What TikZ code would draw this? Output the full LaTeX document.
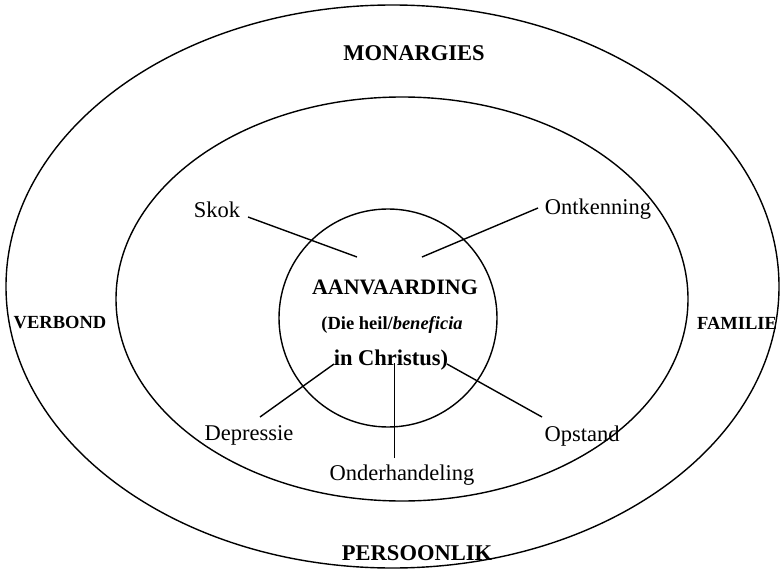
\documentclass[tikz,border=0pt]{standalone}
\usepackage{fontspec}
\setmainfont{Liberation Serif}
\usetikzlibrary{shapes.geometric}
\tikzset{
  ring/.style={draw, ellipse, line width=1.4bp, inner sep=0pt},
  bigbold/.style={font=\fontsize{22.5bp}{27bp}\selectfont\bfseries, inner sep=0pt},
  sidebold/.style={font=\fontsize{18.5bp}{22bp}\selectfont\bfseries, inner sep=0pt},
  stage/.style={font=\fontsize{22.5bp}{27bp}\selectfont, inner sep=0pt},
  link/.style={line width=1.4bp}
}
\begin{document}
\begin{tikzpicture}[x=1bp,y=-1bp]
\useasboundingbox (0,0) rectangle (782,571);
% rings
\node[ring, minimum width=773bp, minimum height=563bp] (outer) at (392.5,286.5) {};
\node[ring, minimum width=572bp, minimum height=404bp] (inner) at (402,299) {};
\node[ring, minimum width=218bp, minimum height=218bp] (core) at (388,318) {};
% outer labels
\node[bigbold] (mon) at (414,53) {MONARGIES};
\node[bigbold] (per) at (417,553) {PERSOONLIK};
\node[sidebold] (ver) at (60,323) {VERBOND};
\node[sidebold] (fam) at (737,323) {FAMILIE};
% centre
\node[font=\fontsize{22bp}{26bp}\selectfont\bfseries, inner sep=0pt] (aan) at (395,287) {AANVAARDING};
\node[sidebold] (heil) at (392,325) {(Die heil/\textit{beneficia}};
\node[bigbold] (chr) at (391,360) {in Christus)};
% stages
\node[stage] (skok) at (217,210) {Skok};
\node[stage] (ont) at (598,209) {Ontkenning};
\node[stage] (dep) at (249,435) {Depressie};
\node[stage] (ond) at (402,475) {Onderhandeling};
\node[stage] (ops) at (582,436) {Opstand};
% connector ends
\coordinate (skokA) at (248,217);
\coordinate (skokB) at (357,257);
\coordinate (ontA) at (538,208);
\coordinate (ontB) at (422,257);
\coordinate (depA) at (260,417);
\coordinate (depB) at (334,364);
\coordinate (ondA) at (394.5,458);
\coordinate (ondB) at (394.5,363);
\coordinate (opsA) at (542,417);
\coordinate (opsB) at (447,364);
\draw[link] (skokA) -- (skokB);
\draw[link] (ontA) -- (ontB);
\draw[link] (depA) -- (depB);
\draw[link] (ondA) -- (ondB);
\draw[link] (opsA) -- (opsB);
\end{tikzpicture}
\end{document}
